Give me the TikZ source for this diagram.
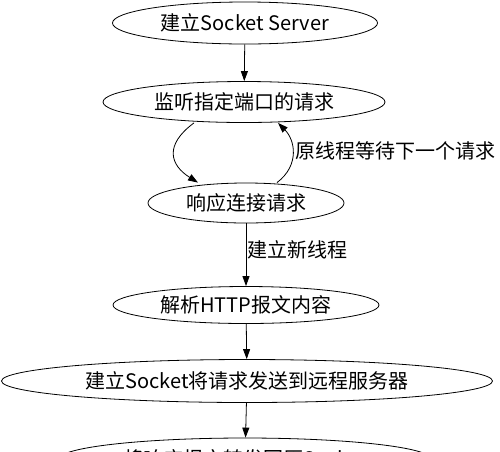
\documentclass[tikz,border=0pt]{standalone}
\usepackage{fontspec}
\setmainfont{Noto Sans CJK SC}
\usetikzlibrary{shapes.geometric,arrows.meta}
\begin{document}
\begin{tikzpicture}[x=1pt,y=-1pt,
  st/.style={ellipse,draw,line width=0.8pt,inner sep=0pt,font=\fontsize{20}{23}\selectfont},
  ar/.style={-{Triangle[length=10pt,width=7pt]},line width=0.8pt},
  lb/.style={font=\fontsize{20}{23}\selectfont,inner sep=0pt,anchor=west}]
\useasboundingbox (0,0) rectangle (500,451);
\clip (0,0) rectangle (500,451);
\node[st,minimum width=265pt,minimum height=42pt] (a) at (245,23) {建立Socket Server};
\node[st,minimum width=282pt,minimum height=41pt] (b) at (244,102) {监听指定端口的请求};
\node[st,minimum width=196pt,minimum height=40pt] (c) at (246,203) {响应连接请求};
\node[st,minimum width=266pt,minimum height=37pt] (d) at (246,305) {解析HTTP报文内容};
\node[st,minimum width=491pt,minimum height=43pt] (e) at (247,381) {建立Socket将请求发送到远程服务器};
\node[st,minimum width=372pt,minimum height=42pt] (f) at (245,459) {将响应报文转发回原Socket};
\draw[ar] (a) -- (b);
\draw[ar] (b.south -| 194,0) .. controls (164,145) and (170,165) .. (c.north -| 198,0);
\draw[ar] (c.north -| 277,0) .. controls (300,165) and (295,140) .. (b.south -| 278,0);
\node[lb] (l1) at (295,151) {原线程等待下一个请求};
\draw[ar] (c) -- (d) node[lb,pos=0.42,xshift=1pt] (l2) {建立新线程};
\draw[ar] (d) -- (e);
\draw[ar] (e) -- (f);
\end{tikzpicture}
\end{document}
